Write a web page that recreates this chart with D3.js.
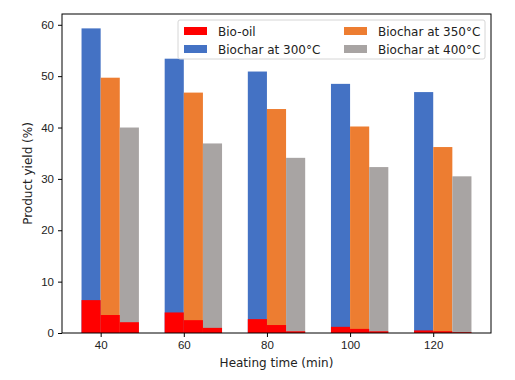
<!DOCTYPE html>
<html>
<head>
<meta charset="utf-8">
<script src="https://cdn.jsdelivr.net/npm/d3@7"></script>
<style>
  body { margin: 0; background: #fff; }
  svg { font-family: "DejaVu Sans", sans-serif; }
  .axis text { font-size: 11.5px; fill: #222; }
  .axis path, .axis line { stroke: #000; stroke-width: 1; }
  .label { font-size: 12px; fill: #222; }
  .legend text { font-size: 12px; fill: #222; }
</style>
</head>
<body>
<div id="chart"></div>
<script>
// heating time (min)
var times = [40, 60, 80, 100, 120];
var temps = ["300", "350", "400"];

// biochar yield (%) per temperature
var biochar300 = [59.3, 53.4, 50.9, 48.5, 46.9];
var biochar350 = [49.7, 46.8, 43.6, 40.2, 36.2];
var biochar400 = [40.0, 36.9, 34.1, 32.3, 30.5];

// bio-oil yield (%) per temperature
var bioOil300 = [6.4, 4.0, 2.7, 1.2, 0.5];
var bioOil350 = [3.5, 2.5, 1.55, 0.8, 0.35];
var bioOil400 = [2.1, 1.0, 0.33, 0.33, 0.15];

var yTicks = [0, 10, 20, 30, 40, 50, 60];

var colors = { "300": "#4472c4", "350": "#ed7d31", "400": "#a8a4a3", oil: "#ff0000" };
var legendItems = [
  { label: "Bio-oil", color: colors.oil },
  { label: "Biochar at 300°C", color: colors["300"] },
  { label: "Biochar at 350°C", color: colors["350"] },
  { label: "Biochar at 400°C", color: colors["400"] }
];

var width = 515, height = 380;
var margin = { top: 14, right: 24, bottom: 47, left: 62 };
var graphWidth = width - margin.left - margin.right;
var graphHeight = height - margin.top - margin.bottom;
var barW = 4.6; // in heating time units

var biochar = { "300": biochar300, "350": biochar350, "400": biochar400 };
var bioOil = { "300": bioOil300, "350": bioOil350, "400": bioOil400 };

var svg = d3.select("#chart").append("svg")
  .attr("width", width)
  .attr("height", height)
  .append("g")
  .attr("transform", "translate(" + margin.left + "," + margin.top + ")");

var x = d3.scaleLinear()
  .domain([30.7, 133.9])
  .range([0, graphWidth]);

var y = d3.scaleLinear()
  .domain([0, 62.1])
  .range([graphHeight, 0]);

// bars: biochar first, bio-oil drawn over them
temps.forEach(function (t, k) {
  svg.selectAll(".bc" + t)
    .data(times)
    .enter()
    .append("rect")
    .attr("x", d => x(d + (k - 1) * barW))
    .attr("width", x(barW) - x(0))
    .attr("y", (d, i) => y(biochar[t][i]))
    .attr("height", (d, i) => y(0) - y(biochar[t][i]))
    .style("fill", colors[t]);
});

temps.forEach(function (t, k) {
  svg.selectAll(".oil" + t)
    .data(times)
    .enter()
    .append("rect")
    .attr("x", d => x(d + (k - 1) * barW))
    .attr("width", x(barW) - x(0))
    .attr("y", (d, i) => y(bioOil[t][i]))
    .attr("height", (d, i) => y(0) - y(bioOil[t][i]))
    .style("fill", colors.oil);
});

// axes
svg.append("g")
  .attr("class", "axis")
  .attr("transform", "translate(0," + graphHeight + ")")
  .call(d3.axisBottom(x).tickValues(times).tickSizeOuter(0).tickSize(4).tickPadding(4));

svg.append("g")
  .attr("class", "axis")
  .call(d3.axisLeft(y).tickValues(yTicks).tickSizeOuter(0).tickSize(4).tickPadding(4));

svg.selectAll(".axis .domain").remove();

// frame
svg.append("rect")
  .attr("width", graphWidth)
  .attr("height", graphHeight)
  .style("fill", "none")
  .style("stroke", "#000")
  .style("stroke-width", 1);

// axis labels
svg.append("text")
  .attr("class", "label")
  .attr("x", graphWidth / 2)
  .attr("y", graphHeight + 34)
  .style("text-anchor", "middle")
  .text("Heating time (min)");

svg.append("text")
  .attr("class", "label")
  .attr("transform", "rotate(-90)")
  .attr("x", -graphHeight / 2)
  .attr("y", -30)
  .style("text-anchor", "middle")
  .text("Product yield (%)");

// legend
var legend = svg.append("g")
  .attr("class", "legend")
  .attr("transform", "translate(" + (178 - margin.left) + "," + (20 - margin.top) + ")");

legend.append("rect")
  .attr("width", 307)
  .attr("height", 39)
  .attr("rx", 2)
  .style("fill", "#fff")
  .style("fill-opacity", 0.8)
  .style("stroke", "#d6d6d6");

legendItems.forEach(function (d, i) {
  var col = i < 2 ? 0 : 1;
  var row = i % 2;
  var g = legend.append("g")
    .attr("transform", "translate(" + (6 + col * 160) + "," + (7 + row * 18) + ")");
  g.append("rect")
    .attr("width", 23)
    .attr("height", 8)
    .style("fill", d.color);
  g.append("text")
    .attr("x", 34)
    .attr("y", 8.5)
    .text(d.label);
});
</script>
</body>
</html>
